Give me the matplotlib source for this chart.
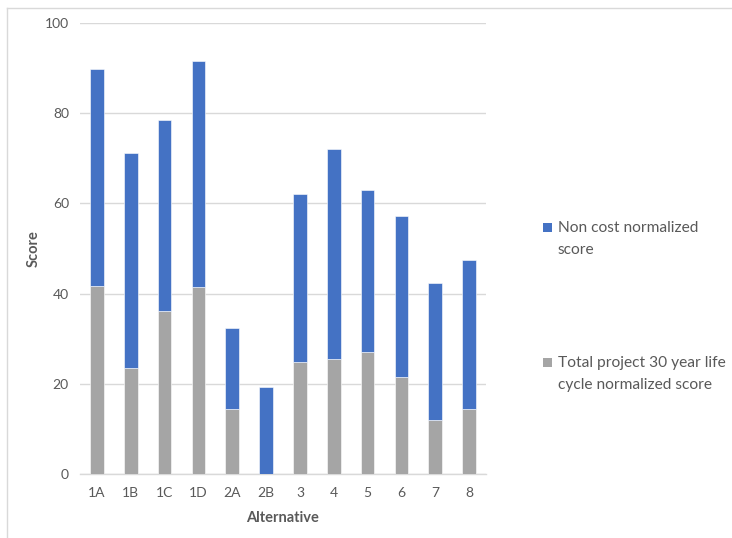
import matplotlib
matplotlib.use("Agg")
import matplotlib.pyplot as plt
from matplotlib.patches import Rectangle
from matplotlib.lines import Line2D

categories = ["1A", "1B", "1C", "1D", "2A", "2B", "3", "4", "5", "6", "7", "8"]
life_cycle_score = [41.8, 23.5, 36.2, 41.4, 14.4, 0.0, 24.9, 25.5, 27.1, 21.5, 12.1, 14.5]
non_cost_score = [47.9, 47.7, 42.2, 50.1, 18.1, 19.3, 37.2, 46.5, 35.9, 35.6, 30.3, 33.0]
series_names = ["Non cost normalized\nscore", "Total project 30 year life\ncycle normalized score"]
yticks = [0, 20, 40, 60, 80, 100]

BLUE = "#4472C4"
GRAY = "#A5A5A5"
TXT = "#595959"
GRID = "#D9D9D9"

plt.rcParams['font.family'] = ['Lato', 'DejaVu Sans']

fig = plt.figure(figsize=(7.32, 5.38), dpi=100)
ax = fig.add_axes([80/732, 1-474.3/538, (486-80)/732, (474.3-22.7)/538])

x = list(range(len(categories)))
ax.bar(x, life_cycle_score, width=0.40, color=GRAY, edgecolor="white", linewidth=0.4, zorder=3)
ax.bar(x, non_cost_score, width=0.40, bottom=life_cycle_score, color=BLUE, edgecolor="white", linewidth=0.4, zorder=3)

ax.set_xlim(-0.5, len(categories) - 0.5)
ax.set_ylim(0, 100)
ax.set_yticks(yticks)
ax.set_xticks(x)
ax.set_xticklabels(categories)
ax.yaxis.grid(True, color=GRID, linewidth=1, zorder=0)
ax.set_axisbelow(True)
for s in ["top", "right", "left"]:
    ax.spines[s].set_visible(False)
ax.spines["bottom"].set_color(GRID)
ax.spines["bottom"].set_linewidth(1)
ax.tick_params(axis="both", length=0, colors=TXT, labelsize=10)
ax.tick_params(axis="y", pad=8)
ax.tick_params(axis="x", pad=9.5)
ax.set_ylabel("Score", fontsize=10.5, fontweight="bold", color=TXT, labelpad=3)
ax.set_xlabel("Alternative", fontsize=10.5, fontweight="bold", color=TXT, labelpad=8)

# legend (manual)
for (yc, col, name) in [(227, BLUE, series_names[0]), (362, GRAY, series_names[1])]:
    fig.patches.append(Rectangle((543/732, 1-(yc+4.5)/538), 9/732, 9/538,
                                 transform=fig.transFigure, facecolor=col, edgecolor="none"))
    fig.text(558/732, 1-(yc-5.5)/538, name, fontsize=11.2, color=TXT, va="top", ha="left",
             linespacing=1.68)

# chart frame (left and top visible)
fig.lines.append(Line2D([7/732, 7/732], [0, 1-8/538], transform=fig.transFigure, color="#D9D9D9", linewidth=1))
fig.lines.append(Line2D([7/732, 1], [1-8/538, 1-8/538], transform=fig.transFigure, color="#D9D9D9", linewidth=1))

fig.savefig("out.png", dpi=100)
